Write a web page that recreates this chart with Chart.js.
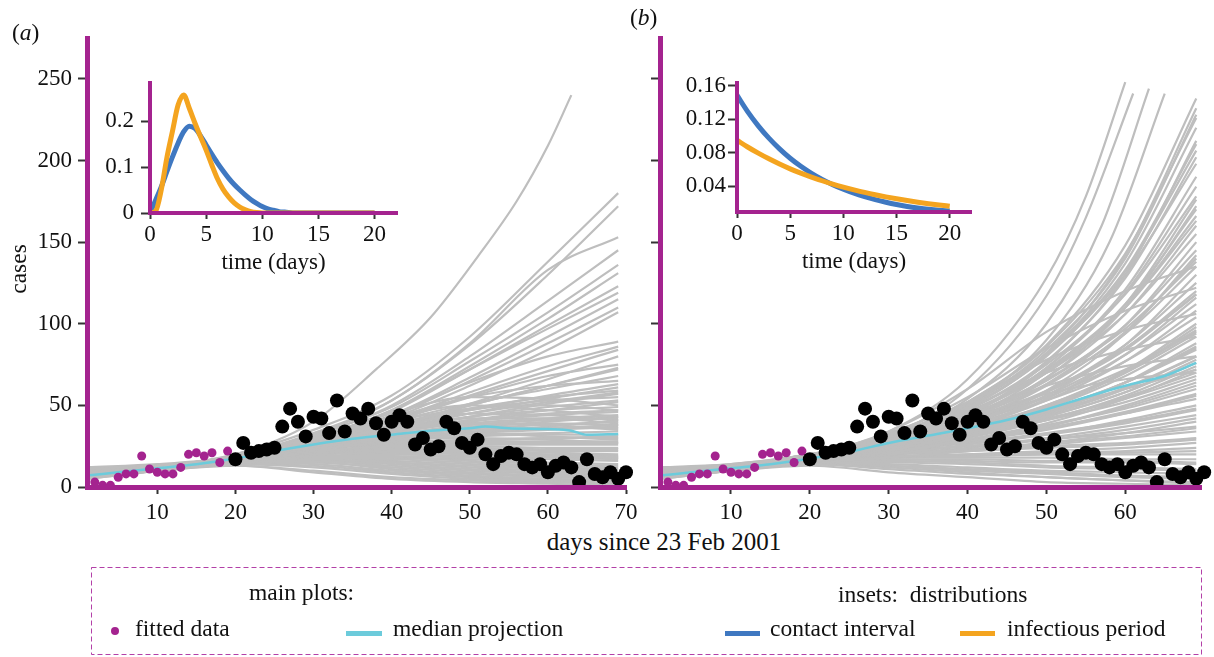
<!DOCTYPE html>
<html>
  <head>
    <meta charset="UTF-8">
    <title>Projected cases</title>
    <script src="https://cdn.jsdelivr.net/npm/chart.js"></script>
    <style>
      body { margin: 0; background: #fff; }
      #fig { position: relative; width: 1214px; height: 657px; overflow: hidden; font-family: 'Liberation Serif', serif; color: #111; }
      canvas { position: absolute; }
      .lbl { position: absolute; font-size: 23.5px; line-height: 1; white-space: pre; transform: translateY(-50%); }
      .mark { position: absolute; }
    </style>
  </head>
  <body>
    <div id="fig">
      <canvas id="mainA" width="660" height="520" style="left:0;top:0"></canvas>
      <canvas id="mainB" width="594" height="520" style="left:620px;top:0"></canvas>
      <canvas id="insetA" width="320" height="230" style="left:90px;top:60px"></canvas>
      <canvas id="insetB" width="310" height="230" style="left:677px;top:60px"></canvas>

      <div class="lbl" style="left:12px;top:33px">(<i>a</i>)</div>
      <div class="lbl" style="left:630px;top:18px">(<i>b</i>)</div>
      <div class="lbl" style="left:19px;top:269px;transform:translate(-50%,-50%) rotate(-90deg)">cases</div>
      <div class="lbl" style="left:664px;top:541px;font-size:25px;transform:translate(-50%,-50%)">days since 23 Feb 2001</div>

      <svg width="1214" height="657" style="position:absolute;left:0;top:0">
        <rect x="91.5" y="567.5" width="1110" height="87" fill="none" stroke="#b340a8" stroke-width="1" stroke-dasharray="5,3"/>
      </svg>
      <div class="lbl" style="left:249px;top:593px">main plots:</div>
      <div class="lbl" style="left:838px;top:595px">insets:  distributions</div>
      <div class="mark" style="left:111px;top:627px;width:8px;height:8px;border-radius:50%;background:#a4238f"></div>
      <div class="lbl" style="left:135px;top:629px">fitted data</div>
      <div class="mark" style="left:346px;top:631px;width:36px;height:5px;background:#6ccbdb"></div>
      <div class="lbl" style="left:393px;top:629px">median projection</div>
      <div class="mark" style="left:725px;top:631px;width:35px;height:5px;background:#3f78c1"></div>
      <div class="lbl" style="left:770px;top:629px">contact interval</div>
      <div class="mark" style="left:960px;top:631px;width:35px;height:5px;background:#f4a41f"></div>
      <div class="lbl" style="left:1007px;top:629px">infectious period</div>
    </div>

    <script>
      // observed cases
      const FIT_DAYS = [2,3,4,5,6,7,8,9,10,11,12,13,14,15,16,17,18,19];
      const FIT_CASES = [3,1,1,6,8,8,19,11,9,8,8,12,20,21,19,21,15,22];
      const OBS_DAYS = [20,21,22,23,24,25,26,27,28,29,30,31,32,33,34,35,36,37,38,39,40,41,42,43,44,45,
                        46,47,48,49,50,51,52,53,54,55,56,57,58,59,60,61,62,63,64,65,66,67,68,69,70];
      const OBS_CASES = [17,27,21,22,23,24,37,48,40,31,43,42,33,53,34,45,42,48,39,32,40,44,40,26,30,23,
                         25,40,36,27,24,29,20,14,19,21,20,14,12,14,9,13,15,12,3,17,8,6,9,5,9];

      // ticks
      const CASE_TICKS = [0,50,100,150,200,250];
      const DAY_TICKS_A = [10,20,30,40,50,60,70];
      const DAY_TICKS_B = [10,20,30,40,50,60];
      const TIME_TICKS = [0,5,10,15,20];
      const DENS_TICKS_A = [0,0.1,0.2];
      const DENS_TICKS_B = [0.04,0.08,0.12,0.16];

      // projections, sampled on these days
      const PROJ_DAYS = [1,10,20,30,40,50,60,69];
      const PROJ_A = [
        [8,12,20,35,56,92,138,180],[9,12,19,33,53,87,130,172],[6,11,18,32,53,88,133,153],
        [8,13,18,31,50,80,114,145],[10,12,19,32,49,77,107,136],[7,10,18,30,47,74,103,131],
        [8,12,18,29,46,72,99,123],[11,13,19,30,47,72,97,119],[8,11,18,29,44,67,92,115],
        [6,11,17,28,43,65,88,110],[8,12,18,28,42,62,84,107],[9,11,17,28,44,64,80,89],
        [10,12,18,27,40,56,71,84],[8,11,17,27,40,55,68,75],[7,10,17,26,37,50,62,73],
        [8,12,18,28,42,55,62,65],[12,14,18,26,36,47,56,63],[8,11,17,27,38,48,55,59],
        [5,10,17,25,34,43,51,57],[8,12,18,27,37,47,53,55],[9,13,18,26,35,43,49,53],
        [8,11,17,27,36,43,47,49],[7,11,17,25,33,40,44,46],[10,12,18,26,34,39,42,44],
        [9,12,17,25,32,38,41,42],[8,11,17,26,32,36,38,40],[6,10,16,24,30,34,36,38],
        [11,13,18,25,31,35,36,36],[9,12,17,24,29,32,33,34],[8,11,17,23,28,31,32,32],
        [7,11,16,23,27,29,30,30],[10,12,18,24,27,28,28,28],[9,12,17,22,25,26,26,26],
        [8,11,17,22,24,25,24,24],[5,10,16,21,23,23,22,22],[8,12,17,21,22,22,21,20],
        [12,13,17,20,21,20,19,18],[8,11,16,19,19,18,17,16],[7,11,16,18,18,17,15,14],
        [8,12,16,18,17,15,13,12],[10,12,16,17,15,13,11,10],[8,11,15,16,14,11,9,8],
        [6,10,15,15,12,9,7,6],[8,12,15,14,10,7,5,4],[11,12,14,12,8,5,4,3],
        [7,10,13,10,6,4,3,2],[8,11,13,9,5,3,2,1],[8,12,19,30,45,55,54,50],
        [9,12,18,28,40,48,50,47],[7,11,17,27,38,45,44,41],[8,12,18,29,42,50,47,43],
        [8,11,17,26,36,42,42,39],[9,12,18,27,35,39,38,35],[8,12,17,25,31,33,31,29],
        [9,12,17,24,30,36,40,43],[7,11,16,23,28,33,37,41],[10,13,18,25,30,33,35,37],
        [8,12,17,23,26,28,30,31],[6,11,16,22,25,27,27,27],[9,12,17,21,23,24,23,23],
        [8,11,16,20,21,21,20,19],[10,12,16,19,20,19,18,17],[7,11,16,19,18,16,14,13],
        [9,12,16,18,16,14,12,11],[8,11,15,17,15,12,10,9],[11,12,15,16,13,10,8,7],
        [7,10,14,15,11,8,6,5],[9,11,14,13,9,6,4,3],[8,12,17,24,31,37,39,38],
        [9,12,18,26,34,41,45,47],[7,11,17,25,33,41,47,52],[10,12,18,27,37,45,52,58],
        [8,11,17,26,35,45,54,61],[9,12,18,28,40,51,60,68],[8,11,17,27,38,50,62,72],
        [7,11,17,26,37,51,66,80],[10,12,18,28,41,58,74,86],[8,12,17,25,29,30,29,27],
        [9,11,16,21,22,21,19,18]
      ];
      // runs that stop once they pass ~245 cases: [day, cases]
      const PROJ_A_TOP = [
        [[1,9],[10,12],[20,20],[30,40],[38,72],[45,104],[51,141],[56,175],[60,209],[63,240]]
      ];
      const PROJ_B = [
        [8,12,18,30,52,87,148,238],[7,11,16,28,48,82,142,232],[10,13,19,31,52,86,143,226],
        [8,12,17,29,48,81,137,220],[6,11,15,26,44,76,130,212],[9,12,18,30,49,80,132,206],
        [11,14,20,32,51,81,130,198],[8,12,17,28,47,77,128,202],[7,11,16,27,44,73,121,190],
        [8,12,17,28,45,73,119,184],[10,12,19,30,47,75,118,178],[6,10,15,25,41,67,110,172],
        [8,12,18,28,45,70,110,166],[9,13,19,29,46,71,110,163],[8,11,17,27,42,67,106,160],
        [12,14,20,30,46,70,106,155],[7,11,16,25,40,63,99,150],[8,12,18,28,42,65,99,145],
        [5,10,15,24,38,59,94,142],[8,12,17,26,40,62,95,140],[10,12,19,28,42,63,94,135],
        [7,11,15,23,36,56,87,130],[8,11,17,26,38,58,87,125],[9,12,18,27,39,58,85,120],
        [11,13,20,29,41,59,85,118],[7,11,16,24,36,54,81,116],[10,12,19,27,39,56,81,112],
        [8,12,17,25,36,53,77,108],[11,13,20,28,39,55,77,104],[6,10,15,22,33,48,71,100],
        [7,11,16,23,34,49,70,98],[8,12,18,25,36,50,71,96],[8,11,17,24,34,48,68,92],
        [7,11,16,23,32,45,64,88],[8,12,17,24,33,46,64,86],[10,12,19,26,35,47,64,84],
        [8,12,18,24,33,45,61,80],[8,12,17,23,31,43,58,76],[6,11,15,21,29,39,54,72],
        [9,12,18,24,31,41,55,70],[12,13,20,26,33,42,54,68],[7,11,16,21,28,37,50,64],
        [5,10,16,21,28,37,49,62],[8,12,18,23,29,38,48,60],[8,11,17,22,28,36,46,57],
        [10,12,19,24,29,36,45,54],[7,11,16,20,26,32,41,50],[8,12,18,22,27,32,39,47],
        [9,12,17,21,25,30,37,44],[6,11,15,18,22,27,33,40],[10,12,19,22,25,29,33,37],
        [8,11,17,20,23,26,30,34],[8,12,18,20,22,25,27,30],[7,11,16,18,20,22,24,27],
        [11,13,17,19,20,21,22,24],[8,12,18,19,19,20,20,20],[9,12,17,18,18,18,17,17],
        [8,11,16,17,16,15,15,14],[6,10,16,16,15,13,12,11],[8,12,15,14,12,10,9,8],
        [12,13,15,13,10,8,6,5],[7,11,14,11,8,6,4,3],[8,10,13,9,6,3,2,1],
        [8,12,19,34,60,95,120,135],[9,12,18,32,55,85,108,122],[8,12,19,33,52,78,96,106],
        [8,11,18,30,48,70,84,92],[9,12,18,29,44,62,74,80],[8,12,18,28,42,57,66,70],
        [9,12,18,25,35,50,70,94],[8,11,17,23,32,44,60,80],[7,11,16,22,30,41,56,74],
        [10,12,19,25,32,41,52,66],[8,12,17,22,28,35,45,56],[9,12,18,22,27,33,40,48],
        [7,11,16,20,24,29,35,42],[8,12,17,20,23,27,31,36],[10,12,18,20,22,24,26,29],
        [8,11,16,18,19,20,21,22],[9,12,17,17,17,16,16,15],[7,11,15,15,14,12,11,10],
        [8,12,15,13,11,9,7,6],[10,11,14,12,9,6,4,2],[8,12,18,27,40,58,84,118],
        [9,12,19,29,44,66,97,138],[8,11,17,28,45,72,112,170],[7,11,16,26,42,70,112,176],
        [10,13,19,31,50,82,133,210],[8,12,18,30,50,84,140,228],[9,12,18,27,38,53,72,95],
        [8,12,17,24,34,47,64,85],[7,11,16,22,31,43,58,78],[9,12,19,27,37,48,60,72]
      ];
      const PROJ_B_TOP = [
        [[1,8],[10,12],[20,18],[30,34],[40,66],[50,128],[55,178],[60,248]],
        [[1,10],[10,13],[20,17],[30,31],[40,60],[50,117],[55,165],[61,241]],
        [[1,7],[10,11],[20,17],[30,30],[40,54],[50,100],[57,160],[63,244]],
        [[1,9],[10,12],[20,17],[30,29],[40,50],[50,90],[58,150],[65,241]]
      ];

      const MEDIAN_A_DAYS = [1,5,10,15,20,25,30,35,40,45,50,52,55,60,63,65,69];
      const MEDIAN_A = [7,9,11.5,14,17.5,22,26,29.5,32,34.5,36,37,36,35.5,34.5,32,32.5];
      const MEDIAN_B_DAYS = [1,5,10,15,20,25,30,35,40,45,50,55,60,65,69];
      const MEDIAN_B = [7,9,11.5,14,17.5,21.5,27,31.5,36,41,47.5,55,62,68,76];

      // inset densities
      const TIME_A = [0,0.5,1,1.5,2,2.5,3,3.5,4,4.5,5,5.5,6,6.5,7,7.5,8,8.5,9,9.5,10,10.5,11,11.5,12,
                      13,14,15,16,17,18,19,20];
      const CONTACT_A = [0,0.028,0.057,0.09,0.122,0.152,0.177,0.189,0.184,0.168,0.148,0.128,0.109,0.092,
                         0.076,0.062,0.05,0.039,0.029,0.021,0.014,0.009,0.006,0.003,0.002,0,0,0,0,0,0,0,0];
      const INFECT_A = [0,0.004,0.05,0.12,0.178,0.235,0.257,0.228,0.196,0.166,0.137,0.105,0.075,0.052,
                        0.035,0.022,0.013,0.007,0.003,0.001,0,0,0,0,0,0,0,0,0,0,0,0,0];
      const TIME_B = [0,1,2,3,4,5,6,7,8,9,10,11,12,13,14,15,16,17,18,19,20];
      const CONTACT_B = [0.1490,0.1293,0.1122,0.0974,0.0845,0.0733,0.0636,0.0552,0.0479,0.0416,0.0361,
                         0.0313,0.0272,0.0236,0.0205,0.0178,0.0155,0.0136,0.0120,0.0108,0.0100];
      const INFECT_B = [0.0950,0.0868,0.0794,0.0726,0.0664,0.0606,0.0554,0.0507,0.0463,0.0423,0.0387,
                        0.0354,0.0323,0.0295,0.0270,0.0247,0.0226,0.0206,0.0188,0.0172,0.0157];

      const PURPLE = '#a4238f';
      const GRAY = '#bebebe';
      const CYAN = '#6ccbdb';
      const BLUE = '#3f78c1';
      const ORANGE = '#f4a41f';
      const FONT = "'Liberation Serif', serif";

      const xy = (xs, ys) => ys.map((v, i) => ({x: xs[i], y: v}));
      const pairs = p => p.map(d => ({x: d[0], y: d[1]}));
      const line = (data, color, width) => ({
        data, borderColor: color, borderWidth: width, pointRadius: 0,
        cubicInterpolationMode: 'monotone', fill: false
      });
      const dots = (data, color, r) => ({
        data, showLine: false, pointRadius: r, pointBackgroundColor: color,
        pointBorderWidth: 0, clip: false
      });

      function axis(opts) {
        return {
          type: 'linear', min: opts.min, max: opts.max,
          afterBuildTicks: s => { s.ticks = opts.ticks.map(v => ({value: v})); },
          afterFit: s => { if (opts.width) s.width = opts.width; if (opts.height) s.height = opts.height; },
          grid: {drawOnChartArea: false, drawTicks: true, tickLength: opts.tl, tickWidth: 2, tickColor: '#333'},
          border: {color: PURPLE, width: opts.bw, z: 1},
          ticks: {display: opts.labels !== false, font: {family: FONT, size: 23}, color: '#111',
                  padding: opts.pad, maxRotation: 0, autoSkip: false},
          title: opts.title ? {display: true, text: opts.title, font: {family: FONT, size: 23},
                               color: '#111', padding: 0} : {display: false}
        };
      }

      function mainChart(id, proj, top, medDays, med, xMax, xTicks, yLabels, yWidth, padRight) {
        const datasets = [
          dots(xy(OBS_DAYS, OBS_CASES), '#000', 7),
          dots(xy(FIT_DAYS, FIT_CASES), PURPLE, 4.5),
          line(xy(medDays, med), CYAN, 2.5)
        ];
        proj.forEach(v => datasets.push(line(xy(PROJ_DAYS, v), GRAY, 2.2)));
        top.forEach(p => datasets.push(line(pairs(p), GRAY, 2.2)));
        new Chart(document.getElementById(id), {
          type: 'line',
          data: {datasets},
          options: {
            responsive: false, animation: false, events: [],
            layout: {padding: {left: 0, top: 38, right: padRight, bottom: 0}},
            plugins: {legend: {display: false}, tooltip: {enabled: false}},
            scales: {
              x: axis({min: 1, max: xMax, ticks: xTicks, height: 33, tl: 7, pad: 5, bw: 5}),
              y: axis({min: 0, max: 275, ticks: CASE_TICKS, width: yWidth, tl: 9, pad: 6, bw: 5, labels: yLabels})
            }
          }
        });
      }

      function insetChart(id, t, contact, infect, yMin, yMax, yTicks, yPad, padRight, padBottom) {
        new Chart(document.getElementById(id), {
          type: 'line',
          data: {datasets: [line(xy(t, infect), ORANGE, 5), line(xy(t, contact), BLUE, 5)]},
          options: {
            responsive: false, animation: false, events: [],
            layout: {padding: {left: 0, top: 23, right: padRight, bottom: padBottom}},
            plugins: {legend: {display: false}, tooltip: {enabled: false}},
            scales: {
              x: axis({min: 0, max: 22, ticks: TIME_TICKS, height: 64, tl: 6, pad: 2, bw: 4, title: 'time (days)'}),
              y: axis({min: yMin, max: yMax, ticks: yTicks, width: 60, tl: 9, pad: yPad, bw: 4})
            }
          }
        });
      }

      mainChart('mainA', PROJ_A, PROJ_A_TOP, MEDIAN_A_DAYS, MEDIAN_A, 70, DAY_TICKS_A, true, 87, 34);
      mainChart('mainB', PROJ_B, PROJ_B_TOP, MEDIAN_B_DAYS, MEDIAN_B, 69.6, DAY_TICKS_B, false, 40, 13);
      insetChart('insetA', TIME_A, CONTACT_A, INFECT_A, 0, 0.283, DENS_TICKS_A, 7, 13, 13);
      insetChart('insetB', TIME_B, CONTACT_B, INFECT_B, 0.0088, 0.1636, DENS_TICKS_B, 2, 16, 14);
    </script>
  </body>
</html>
